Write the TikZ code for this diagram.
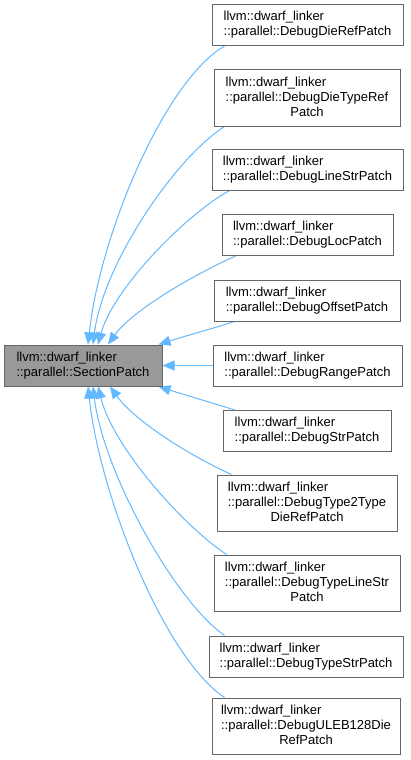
\documentclass[tikz,border=0pt]{standalone}
\usepackage{fontspec}
\setmainfont{Liberation Sans}
\usetikzlibrary{arrows.meta,backgrounds}
\definecolor{edgeblue}{HTML}{63B8FF}
\definecolor{boxborder}{HTML}{666666}
\definecolor{basefill}{HTML}{999999}
\newcommand{\twol}[2]{\begin{tabular}{@{}l@{}}#1\\#2\end{tabular}}
\newcommand{\threel}[3]{\begin{tabular}{@{}l@{}}#1\\#2\\\multicolumn{1}{@{}c@{}}{#3}\end{tabular}}
\begin{document}
\begin{tikzpicture}[x=1pt,y=-1pt,
  cls/.style={draw=boxborder,line width=1pt,fill=white,inner sep=0pt,
    font=\fontsize{13}{15}\selectfont,minimum height=41pt},
  tall/.style={minimum height=56pt},
  basecls/.style={cls,fill=basefill},
  edge/.style={draw=edgeblue,line width=1pt,{Triangle[length=12pt,width=10pt]}-}]
\useasboundingbox (0,0) rectangle (410,760);
\node[basecls,minimum width=158pt] (base) at (83,365.5) {\twol{llvm::dwarf\_linker}{::parallel::SectionPatch}};
\node[cls,minimum width=191pt] (d1) at (307.5,25) {\twol{llvm::dwarf\_linker}{::parallel::DebugDieRefPatch}};
\node[cls,tall,minimum width=186pt] (d2) at (307,98) {\threel{llvm::dwarf\_linker}{::parallel::DebugDieTypeRef}{Patch}};
\node[cls,minimum width=191pt] (d3) at (307.5,169.5) {\twol{llvm::dwarf\_linker}{::parallel::DebugLineStrPatch}};
\node[cls,minimum width=171pt] (d4) at (307.5,235) {\twol{llvm::dwarf\_linker}{::parallel::DebugLocPatch}};
\node[cls,minimum width=186pt] (d5) at (307,300.5) {\twol{llvm::dwarf\_linker}{::parallel::DebugOffsetPatch}};
\node[cls,minimum width=189pt] (d6) at (307.5,365.5) {\twol{llvm::dwarf\_linker}{::parallel::DebugRangePatch}};
\node[cls,minimum width=168pt] (d7) at (307,431) {\twol{llvm::dwarf\_linker}{::parallel::DebugStrPatch}};
\node[cls,tall,minimum width=180pt] (d8) at (307,503) {\threel{llvm::dwarf\_linker}{::parallel::DebugType2Type}{DieRefPatch}};
\node[cls,tall,minimum width=186pt] (d9) at (307,583) {\threel{llvm::dwarf\_linker}{::parallel::DebugTypeLineStr}{Patch}};
\node[cls,minimum width=194pt] (d10) at (306,656.5) {\twol{llvm::dwarf\_linker}{::parallel::DebugTypeStrPatch}};
\node[cls,tall,minimum width=188pt] (d11) at (306,726) {\threel{llvm::dwarf\_linker}{::parallel::DebugULEB128Die}{RefPatch}};
\begin{scope}[on background layer]
\draw[edge] ([xshift=5]base.north) .. controls +(12,-110) and +(-60,35) .. ([xshift=13]d1.south west);
\draw[edge] ([xshift=10]base.north) .. controls +(10,-80) and +(-50,32) .. ([xshift=11]d2.south west);
\draw[edge] ([xshift=15]base.north) .. controls +(15,-55) and +(-45,25) .. ([xshift=18]d3.south west);
\draw[edge] ([xshift=25]base.north) .. controls +(25,-35) and +(-40,18) .. ([xshift=14]d4.south west);
\draw[edge] ([xshift=-4]base.north east) .. controls +(25,-8) and +(-25,8) .. ([xshift=21]d5.south west);
\draw[edge] (base.east) -- (d6.west);
\draw[edge] ([xshift=-4]base.south east) .. controls +(25,8) and +(-25,-8) .. ([xshift=12]d7.north west);
\draw[edge] ([xshift=27]base.south) .. controls +(25,35) and +(-40,-18) .. ([xshift=15]d8.north west);
\draw[edge] ([xshift=15]base.south) .. controls +(15,60) and +(-45,-30) .. ([xshift=13]d9.north west);
\draw[edge] ([xshift=10]base.south) .. controls +(10,85) and +(-50,-35) .. ([xshift=16]d10.north west);
\draw[edge] ([xshift=5]base.south) .. controls +(12,110) and +(-60,-40) .. ([xshift=13]d11.north west);
\end{scope}
\end{tikzpicture}
\end{document}
